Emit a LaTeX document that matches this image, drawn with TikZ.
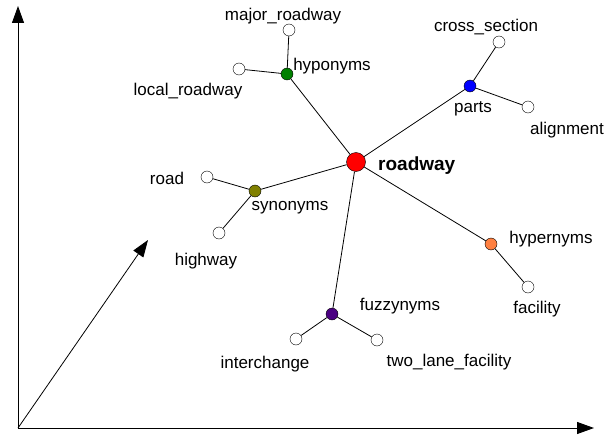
\documentclass[tikz,border=0pt]{standalone}
\usepackage{fontspec}
\setmainfont{Liberation Sans}
\usetikzlibrary{arrows.meta}

\definecolor{hypocol}{RGB}{0,128,0}
\definecolor{synocol}{RGB}{128,128,0}
\definecolor{hypercol}{RGB}{255,128,64}
\definecolor{fuzzycol}{RGB}{75,0,130}

\tikzset{
  hub/.style={circle, draw=black, fill=red, minimum size=19pt, inner sep=0pt},
  facet/.style={circle, draw=black, minimum size=12pt, inner sep=0pt},
  leaf/.style={circle, draw=black, fill=white, minimum size=12pt, inner sep=0pt},
  lbl/.style={font=\fontsize{17}{20}\selectfont, inner sep=0pt},
  link/.style={draw=black, line width=0.8pt},
  axis/.style={line width=1pt, -{Triangle[length=17pt, width=12pt]}}
}

\begin{document}
\begin{tikzpicture}[x=1pt, y=-1pt]
\useasboundingbox (0,0) rectangle (608,436);

% Axes
\coordinate (o) at (18,428);
\coordinate (ytip) at (18,6);
\coordinate (xtip) at (594,428);
\coordinate (dtip) at (148,240);
\draw[axis] (o) -- (ytip);
\draw[axis] (o) -- (xtip);
\draw[axis, line width=0.8pt] (o) -- (dtip);

% Centre node
\node[hub] (roadway) at (356,162) {};
\node[lbl, font=\fontsize{19}{22}\selectfont\bfseries, anchor=west] (roadwaylbl) at (378,166) {roadway};

% Facet nodes
\node[facet, fill=blue] (parts) at (470,86) {};
\node[facet, fill=hypocol] (hyponyms) at (287,74) {};
\node[facet, fill=synocol] (synonyms) at (255,191) {};
\node[facet, fill=hypercol] (hypernyms) at (491,244) {};
\node[facet, fill=fuzzycol] (fuzzynyms) at (332,314) {};

\node[lbl] (partslbl) at (473,109) {parts};
\node[lbl] (hyponymslbl) at (332,66) {hyponyms};
\node[lbl] (synonymslbl) at (290,208) {synonyms};
\node[lbl] (hypernymslbl) at (551,239) {hypernyms};
\node[lbl] (fuzzynymslbl) at (400,306) {fuzzynyms};

% Leaf nodes
\node[leaf] (crosssection) at (499,42) {};
\node[leaf] (alignment) at (528,107) {};
\node[leaf] (majorroadway) at (289,30) {};
\node[leaf] (localroadway) at (239,69) {};
\node[leaf] (road) at (207,177) {};
\node[leaf] (highway) at (219,233) {};
\node[leaf] (facility) at (528,287) {};
\node[leaf] (interchange) at (296,339) {};
\node[leaf] (twolane) at (377,340) {};

\node[lbl] (crosssectionlbl) at (486,27) {cross\_section};
\node[lbl] (alignmentlbl) at (567,130) {alignment};
\node[lbl] (majorroadwaylbl) at (283,16) {major\_roadway};
\node[lbl] (localroadwaylbl) at (188,91) {local\_roadway};
\node[lbl] (roadlbl) at (167,178) {road};
\node[lbl] (highwaylbl) at (206,261) {highway};
\node[lbl] (facilitylbl) at (537,309) {facility};
\node[lbl] (interchangelbl) at (265,364) {interchange};
\node[lbl] (twolanelbl) at (449,362) {two\_lane\_facility};

% Links from the centre
\foreach \f in {parts,hyponyms,synonyms,hypernyms,fuzzynyms}
  \draw[link] (roadway) -- (\f);

% Links to the leaves
\draw[link] (parts) -- (crosssection);
\draw[link] (parts) -- (alignment);
\draw[link] (hyponyms) -- (majorroadway);
\draw[link] (hyponyms) -- (localroadway);
\draw[link] (synonyms) -- (road);
\draw[link] (synonyms) -- (highway);
\draw[link] (hypernyms) -- (facility);
\draw[link] (fuzzynyms) -- (interchange);
\draw[link] (fuzzynyms) -- (twolane);
\end{tikzpicture}
\end{document}
